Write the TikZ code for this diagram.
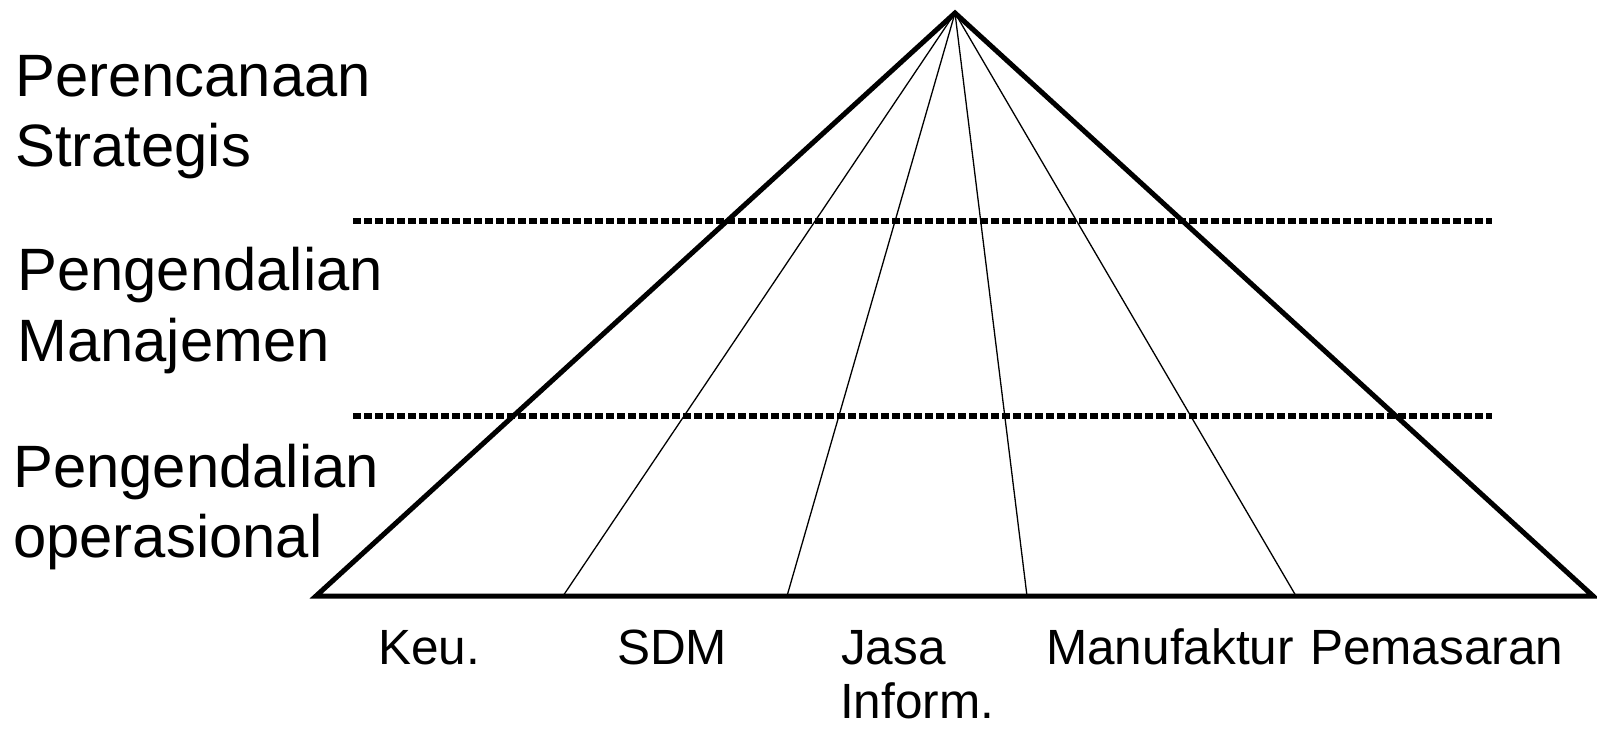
\documentclass[tikz,border=0pt]{standalone}
\usepackage{fontspec}
\setmainfont{Liberation Sans}
\begin{document}
\begin{tikzpicture}[x=1pt,y=-1pt,
  outline/.style={line width=5pt,line join=miter},
  divider/.style={line width=1.3pt},
  levelline/.style={line width=6pt,dash pattern=on 8pt off 3pt},
  levellabel/.style={anchor=base west,inner sep=0pt,font=\fontsize{59.8}{69}\selectfont},
  unitlabel/.style={anchor=base west,inner sep=0pt,font=\fontsize{49.5}{60}\selectfont}]
\useasboundingbox (0,0) rectangle (1597,729);
\coordinate (apex) at (955,13);
\coordinate (bl) at (316,596);
\coordinate (br) at (1593,596);
\coordinate (b1) at (563,596);
\coordinate (b2) at (787,596);
\coordinate (b3) at (1027,596);
\coordinate (b4) at (1296,596);
\coordinate (d1l) at (353,221);
\coordinate (d1r) at (1492,221);
\coordinate (d2l) at (353,416);
\coordinate (d2r) at (1492,416);
\draw[divider] (apex) -- (b1);
\draw[divider] (apex) -- (b2);
\draw[divider] (apex) -- (b3);
\draw[divider] (apex) -- (b4);
\draw[outline] (apex) -- (bl) -- (br) -- cycle;
\draw[levelline] (d1l) -- (d1r);
\draw[levelline] (d2l) -- (d2r);
\node[levellabel] (l1a) at (15,96) {Perencanaan};
\node[levellabel] (l1b) at (15,166) {Strategis};
\node[levellabel] (l2a) at (17,290) {Pengendalian};
\node[levellabel] (l2b) at (17,361) {Manajemen};
\node[levellabel] (l3a) at (13,487) {Pengendalian};
\node[levellabel] (l3b) at (13,557) {operasional};
\node[unitlabel] (u1) at (378,664) {Keu.};
\node[unitlabel] (u2) at (617,664) {SDM};
\node[unitlabel] (u3) at (841,664) {Jasa};
\node[unitlabel] (u3b) at (840,718) {Inform.};
\node[unitlabel] (u4) at (1046,664) {Manufaktur};
\node[unitlabel] (u5) at (1310,664) {Pemasaran};
\end{tikzpicture}
\end{document}
